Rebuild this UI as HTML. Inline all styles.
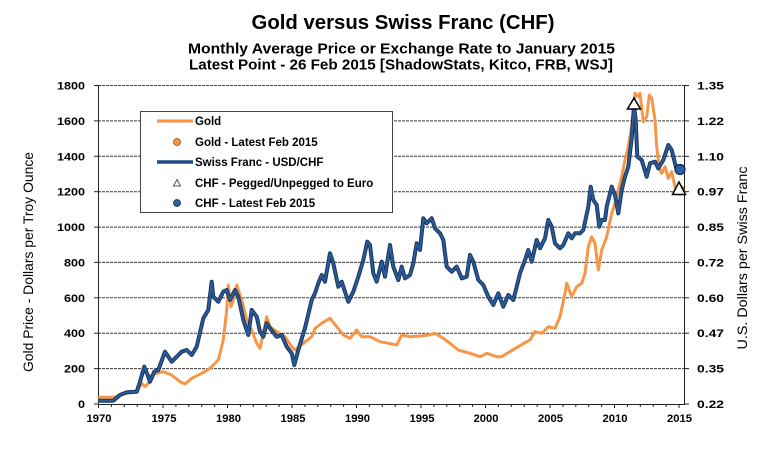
<!DOCTYPE html>
<html><head><meta charset="utf-8"><style>
html,body{margin:0;padding:0;background:#fff;}
svg{display:block;}
text{font-family:"Liberation Sans",Arial,sans-serif;fill:#000;}
</style></head><body>
<svg width="781" height="454" viewBox="0 0 781 454" xmlns="http://www.w3.org/2000/svg">
<rect x="0" y="0" width="781" height="454" fill="#fff"/>
<!-- titles -->
<text x="403" y="29" font-size="20" font-weight="bold" text-anchor="middle" textLength="303" lengthAdjust="spacingAndGlyphs">Gold versus Swiss Franc (CHF)</text>
<text x="401.5" y="53.5" font-size="15" font-weight="bold" text-anchor="middle" textLength="427" lengthAdjust="spacingAndGlyphs">Monthly  Average Price or Exchange Rate to January 2015</text>
<text x="401" y="69.5" font-size="15" font-weight="bold" text-anchor="middle" textLength="424" lengthAdjust="spacingAndGlyphs">Latest Point - 26 Feb 2015 [ShadowStats, Kitco, FRB, WSJ]</text>

<!-- gridlines -->
<g stroke="#3a3a3a" stroke-width="1" stroke-dasharray="3,1">
<line x1="98" y1="85.5" x2="685" y2="85.5"/>
<line x1="98" y1="120.9" x2="685" y2="120.9"/>
<line x1="98" y1="156.3" x2="685" y2="156.3"/>
<line x1="98" y1="191.7" x2="685" y2="191.7"/>
<line x1="98" y1="227.1" x2="685" y2="227.1"/>
<line x1="98" y1="262.4" x2="685" y2="262.4"/>
<line x1="98" y1="297.8" x2="685" y2="297.8"/>
<line x1="98" y1="333.2" x2="685" y2="333.2"/>
<line x1="98" y1="368.6" x2="685" y2="368.6"/>
</g>

<!-- axes -->
<g stroke="#222" stroke-width="1">
<line x1="98.5" y1="85" x2="98.5" y2="404"/>
<line x1="684.5" y1="85" x2="684.5" y2="404"/>
<line x1="98" y1="404.5" x2="685" y2="404.5"/>
</g>
<!-- y ticks -->
<g stroke="#222" stroke-width="1">
<line x1="94" y1="85.5" x2="98" y2="85.5"/><line x1="94" y1="120.9" x2="98" y2="120.9"/><line x1="94" y1="156.3" x2="98" y2="156.3"/><line x1="94" y1="191.7" x2="98" y2="191.7"/><line x1="94" y1="227.1" x2="98" y2="227.1"/><line x1="94" y1="262.4" x2="98" y2="262.4"/><line x1="94" y1="297.8" x2="98" y2="297.8"/><line x1="94" y1="333.2" x2="98" y2="333.2"/><line x1="94" y1="368.6" x2="98" y2="368.6"/><line x1="94" y1="404" x2="98" y2="404"/>
<line x1="685" y1="85.5" x2="689" y2="85.5"/><line x1="685" y1="120.9" x2="689" y2="120.9"/><line x1="685" y1="156.3" x2="689" y2="156.3"/><line x1="685" y1="191.7" x2="689" y2="191.7"/><line x1="685" y1="227.1" x2="689" y2="227.1"/><line x1="685" y1="262.4" x2="689" y2="262.4"/><line x1="685" y1="297.8" x2="689" y2="297.8"/><line x1="685" y1="333.2" x2="689" y2="333.2"/><line x1="685" y1="368.6" x2="689" y2="368.6"/><line x1="685" y1="404" x2="689" y2="404"/>
</g>
<!-- x ticks -->
<g stroke="#222" stroke-width="1">
<path d="M98.5 404v4M111.4 404v3M124.3 404v3M137.2 404v3M150.1 404v3M163 404v4M175.9 404v3M188.8 404v3M201.7 404v3M214.6 404v3M227.5 404v4M240.4 404v3M253.3 404v3M266.2 404v3M279.1 404v3M292 404v4M304.9 404v3M317.8 404v3M330.7 404v3M343.6 404v3M356.5 404v4M369.4 404v3M382.3 404v3M395.2 404v3M408.1 404v3M421 404v4M433.9 404v3M446.8 404v3M459.7 404v3M472.6 404v3M485.5 404v4M498.4 404v3M511.3 404v3M524.2 404v3M537.1 404v3M550 404v4M562.9 404v3M575.8 404v3M588.7 404v3M601.6 404v3M614.5 404v4M627.4 404v3M640.3 404v3M653.2 404v3M666.1 404v3M679 404v4"/>
</g>

<!-- left labels -->
<g font-size="11" font-weight="bold" text-anchor="end">
<text x="85" y="89.5" textLength="28" lengthAdjust="spacingAndGlyphs">1800</text>
<text x="85" y="124.9" textLength="28" lengthAdjust="spacingAndGlyphs">1600</text>
<text x="85" y="160.3" textLength="28" lengthAdjust="spacingAndGlyphs">1400</text>
<text x="85" y="195.7" textLength="28" lengthAdjust="spacingAndGlyphs">1200</text>
<text x="85" y="231.1" textLength="28" lengthAdjust="spacingAndGlyphs">1000</text>
<text x="85" y="266.4" textLength="21" lengthAdjust="spacingAndGlyphs">800</text>
<text x="85" y="301.8" textLength="21" lengthAdjust="spacingAndGlyphs">600</text>
<text x="85" y="337.2" textLength="21" lengthAdjust="spacingAndGlyphs">400</text>
<text x="85" y="372.6" textLength="21" lengthAdjust="spacingAndGlyphs">200</text>
<text x="85" y="408" textLength="7" lengthAdjust="spacingAndGlyphs">0</text>
</g>
<!-- right labels -->
<g font-size="11" font-weight="bold">
<text x="697" y="89.5" textLength="27" lengthAdjust="spacingAndGlyphs">1.35</text>
<text x="697" y="124.9" textLength="27" lengthAdjust="spacingAndGlyphs">1.22</text>
<text x="697" y="160.3" textLength="27" lengthAdjust="spacingAndGlyphs">1.10</text>
<text x="697" y="195.7" textLength="27" lengthAdjust="spacingAndGlyphs">0.97</text>
<text x="697" y="231.1" textLength="27" lengthAdjust="spacingAndGlyphs">0.85</text>
<text x="697" y="266.4" textLength="27" lengthAdjust="spacingAndGlyphs">0.72</text>
<text x="697" y="301.8" textLength="27" lengthAdjust="spacingAndGlyphs">0.60</text>
<text x="697" y="337.2" textLength="27" lengthAdjust="spacingAndGlyphs">0.47</text>
<text x="697" y="372.6" textLength="27" lengthAdjust="spacingAndGlyphs">0.35</text>
<text x="697" y="408" textLength="27" lengthAdjust="spacingAndGlyphs">0.22</text>
</g>
<!-- x labels -->
<g font-size="11" font-weight="bold" text-anchor="middle">
<text x="99" y="422" textLength="25" lengthAdjust="spacingAndGlyphs">1970</text>
<text x="164" y="422" textLength="25" lengthAdjust="spacingAndGlyphs">1975</text>
<text x="228.5" y="422" textLength="25" lengthAdjust="spacingAndGlyphs">1980</text>
<text x="293" y="422" textLength="25" lengthAdjust="spacingAndGlyphs">1985</text>
<text x="357.5" y="422" textLength="25" lengthAdjust="spacingAndGlyphs">1990</text>
<text x="422" y="422" textLength="25" lengthAdjust="spacingAndGlyphs">1995</text>
<text x="486" y="422" textLength="25" lengthAdjust="spacingAndGlyphs">2000</text>
<text x="550.5" y="422" textLength="25" lengthAdjust="spacingAndGlyphs">2005</text>
<text x="615" y="422" textLength="25" lengthAdjust="spacingAndGlyphs">2010</text>
<text x="679.5" y="422" textLength="25" lengthAdjust="spacingAndGlyphs">2015</text>
</g>

<!-- axis titles -->
<text transform="translate(33,262) rotate(-90)" font-size="14" text-anchor="middle" textLength="220" lengthAdjust="spacingAndGlyphs">Gold Price - Dollars per Troy Ounce</text>
<text transform="translate(747,258) rotate(-90)" font-size="14" text-anchor="middle" textLength="183" lengthAdjust="spacingAndGlyphs">U.S. Dollars per Swiss Franc</text>

<!-- Gold series -->
<polyline fill="none" stroke="#F79646" stroke-width="3" stroke-linejoin="round" points="98.3,397.3 115,397.3 121.7,394 136.7,391.7 141.7,383.3 145,386.7 148.3,383.3 151.7,375 156.7,373.3 163.3,371.7 171.7,375 180,381.7 185,384 191.7,378.3 201.7,373.3 210,368.3 218.3,360 223.3,340 226.7,310 228.3,285 231,306.7 233.3,300 236.7,285 241.7,300 246.7,320 251.7,330 256.7,343.3 260,348.3 263.3,333.3 266.7,316.7 270,326.7 276.7,331.7 285,336.7 291.7,346.7 295,350 303.3,343.3 311.7,336.7 315,328.3 321.7,323.3 330,318.3 336.7,326.7 343.3,335 350,338.3 356.7,330 361.7,336.7 370,336.7 380,341.7 388.3,343.3 396.7,345 401.7,335 410,336.7 420,336 428.3,335 435,333.3 443.3,338.3 450,343.3 458.3,350 470,353.3 480,356.7 486.7,353.3 496.7,356.7 501.7,356.7 510,351.7 518.3,346.7 526.7,341.7 530,340 535,331.7 541.7,333.3 548.3,326.7 555,328.3 560,316.7 565,293.3 566.7,283.3 571.7,296.7 576.7,286.7 581.7,283.3 585,273.3 588.3,246.7 591.7,236.7 595,243.3 598.3,270 601.7,250 606.7,236.7 611.7,213.3 615,203.3 618.3,190 621.7,176.7 625,160 628.3,146.7 631.7,126.7 635,93.3 638.3,96.7 640,93.3 643.3,121.7 646.7,116.7 649.3,95 651.7,98.3 655,120 656.7,146.7 659.3,168.3 661.7,173.3 665,166.7 668.3,178.3 671.7,171.7 675,186.7 676.7,195"/>

<!-- CHF series -->
<polyline fill="none" stroke="#17375E" stroke-width="4" stroke-linejoin="round" points="98.3,400.7 113.3,400.7 120,395 126.7,392.3 136.7,391.7 140,381.7 144.3,366.7 148.3,376.7 150,381.7 154.3,371.7 158.3,370 165,351.7 171.7,361.7 181.7,351.7 186.7,350 191.7,355 196.7,346.7 203.3,318.3 208.3,310 211.7,281.7 213.3,296.7 218.3,301.7 223.3,291.7 226.7,290 230,300 235,290 238.3,296.7 243.3,320 248.3,335 251.7,310 256.7,316.7 260,331.7 263.3,336.7 266.7,323.3 270,328.3 276.7,336.7 281.7,335 286.7,346.7 291.7,353.3 294.3,365 298.3,350 305,328 311.7,300 315,293.3 318.3,283.3 321.7,275 325,281.7 330,253.3 333.3,263.3 338.3,286.7 341.7,281.7 348.3,301.7 353.3,291.7 358.3,276.7 363.3,260 367.3,241.7 370,245 373.3,273.3 376.7,281.7 381.7,261.7 385,276.7 390,245 393.3,266.7 398.3,280 401.7,266.7 405,278.3 410,275 413.3,263.3 416.7,243.3 420,250 423.3,218.3 426.7,223.3 431.7,218.3 435,228.3 440,233.3 443.3,240 446.7,266.7 451.7,271.7 456.7,266.7 461.7,278.3 466.7,276.7 470,255 473.3,261.7 478.3,280 483.3,285 488.3,296.7 493.3,305 498.3,293.3 503.3,306.7 508.3,295 513.3,300 516.7,286.7 520,273.3 525,260 528.3,250 531.7,261.7 536.7,240 540,248.3 545,238.3 548.3,220 551.7,226.7 555,243.3 560,248.3 563.3,245 568.3,233.3 571.7,238.3 575,233.3 580,233.3 583.3,230 588.3,206.7 590.7,186.7 593.3,200 596.7,205 599.3,226.7 601.7,220 605,220 606.7,206.7 611.7,186.7 615,195 618.3,213.3 621.7,190 625,176.7 628.3,166.7 631.7,138.3 634,106 635.7,120 637.3,156.7 641.7,160 646.7,176.7 650,163.3 655,161.7 658.3,168.3 663.3,160 668.3,145 671.7,150 675,163.3 676.7,170"/>
<polyline fill="none" stroke="#2B5A98" stroke-width="2" stroke-linejoin="round" points="98.3,400.7 113.3,400.7 120,395 126.7,392.3 136.7,391.7 140,381.7 144.3,366.7 148.3,376.7 150,381.7 154.3,371.7 158.3,370 165,351.7 171.7,361.7 181.7,351.7 186.7,350 191.7,355 196.7,346.7 203.3,318.3 208.3,310 211.7,281.7 213.3,296.7 218.3,301.7 223.3,291.7 226.7,290 230,300 235,290 238.3,296.7 243.3,320 248.3,335 251.7,310 256.7,316.7 260,331.7 263.3,336.7 266.7,323.3 270,328.3 276.7,336.7 281.7,335 286.7,346.7 291.7,353.3 294.3,365 298.3,350 305,328 311.7,300 315,293.3 318.3,283.3 321.7,275 325,281.7 330,253.3 333.3,263.3 338.3,286.7 341.7,281.7 348.3,301.7 353.3,291.7 358.3,276.7 363.3,260 367.3,241.7 370,245 373.3,273.3 376.7,281.7 381.7,261.7 385,276.7 390,245 393.3,266.7 398.3,280 401.7,266.7 405,278.3 410,275 413.3,263.3 416.7,243.3 420,250 423.3,218.3 426.7,223.3 431.7,218.3 435,228.3 440,233.3 443.3,240 446.7,266.7 451.7,271.7 456.7,266.7 461.7,278.3 466.7,276.7 470,255 473.3,261.7 478.3,280 483.3,285 488.3,296.7 493.3,305 498.3,293.3 503.3,306.7 508.3,295 513.3,300 516.7,286.7 520,273.3 525,260 528.3,250 531.7,261.7 536.7,240 540,248.3 545,238.3 548.3,220 551.7,226.7 555,243.3 560,248.3 563.3,245 568.3,233.3 571.7,238.3 575,233.3 580,233.3 583.3,230 588.3,206.7 590.7,186.7 593.3,200 596.7,205 599.3,226.7 601.7,220 605,220 606.7,206.7 611.7,186.7 615,195 618.3,213.3 621.7,190 625,176.7 628.3,166.7 631.7,138.3 634,106 635.7,120 637.3,156.7 641.7,160 646.7,176.7 650,163.3 655,161.7 658.3,168.3 663.3,160 668.3,145 671.7,150 675,163.3 676.7,170"/>

<!-- markers -->
<circle cx="680" cy="190.5" r="4.5" fill="#F79646" stroke="#8a5020" stroke-width="1"/>
<polygon points="634,98 640.5,109 627.5,109" fill="#fff" stroke="#000" stroke-width="1.5"/>
<polygon points="679,182 685.5,194.5 672.5,194.5" fill="#fff" stroke="#000" stroke-width="1.5"/>
<circle cx="680" cy="169.5" r="5" fill="#2E5E9E" stroke="#112c52" stroke-width="1.2"/>

<!-- legend -->
<rect x="140.5" y="111.5" width="252" height="101" fill="#fff" stroke="#444" stroke-width="1"/>
<line x1="157" y1="121" x2="193" y2="121" stroke="#F79646" stroke-width="3"/>
<circle cx="177" cy="142" r="3.5" fill="#F79646" stroke="#8a5020" stroke-width="0.8"/>
<line x1="157" y1="162" x2="193" y2="162" stroke="#1F4A85" stroke-width="3.5"/>
<polygon points="177,179.5 180.5,186 173.5,186" fill="#fff" stroke="#555" stroke-width="1"/>
<circle cx="177" cy="203" r="3.5" fill="#2E5E9E" stroke="#112c52" stroke-width="0.8"/>
<g font-size="11.5" font-weight="bold">
<text x="195" y="125">Gold</text>
<text x="195" y="146">Gold - Latest Feb 2015</text>
<text x="195" y="166">Swiss Franc - USD/CHF</text>
<text x="195" y="187">CHF - Pegged/Unpegged to Euro</text>
<text x="195" y="207">CHF - Latest Feb 2015</text>
</g>
</svg>
</body></html>
